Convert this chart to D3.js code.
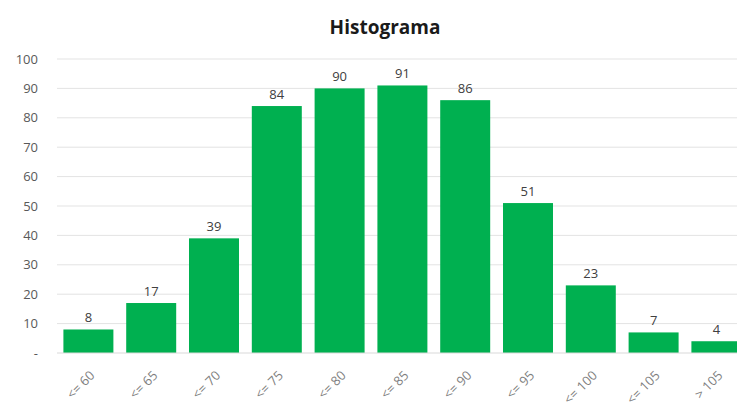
<!DOCTYPE html>
<html><head><meta charset="utf-8">
<script src="https://cdn.jsdelivr.net/npm/d3@7"></script>
<style>body{margin:0;background:#fff;overflow:hidden}</style>
</head><body>
<svg id="c" width="737" height="403"></svg>
<script>
const categories = ["<= 60","<= 65","<= 70","<= 75","<= 80","<= 85","<= 90","<= 95","<= 100","<= 105","> 105"];
const values = [8,17,39,84,90,91,86,51,23,7,4];
const yTicks = [0,10,20,30,40,50,60,70,80,90,100];

const svg = d3.select("#c");
const font = "'Open Sans', Calibri, sans-serif";
const x = d3.scaleBand().domain(categories).range([57, 747.8]).paddingInner(0.204).paddingOuter(0.102);
const y = d3.scaleLinear().domain([0,100]).range([353, 59]);

svg.append("g").selectAll("line").data(yTicks.slice(1)).join("line")
  .attr("x1",57).attr("x2",737).attr("y1",d=>y(d)).attr("y2",d=>y(d))
  .attr("stroke","#e3e3e3").attr("stroke-width",1);

const ya = svg.append("g").attr("transform","translate(44,0)")
  .call(d3.axisLeft(y).tickValues(yTicks).tickSize(0).tickPadding(6).tickFormat(d=>d===0?"-":d));
ya.select(".domain").remove();
ya.selectAll("text").attr("font-family",font).attr("font-size",13).attr("fill","#595959");

svg.append("g").selectAll("rect").data(values).join("rect")
  .attr("x",(d,i)=>x(categories[i])).attr("width",x.bandwidth())
  .attr("y",d=>y(d)).attr("height",d=>y(0)-y(d)).attr("fill","#00b050");

svg.append("line").attr("x1",57).attr("x2",737).attr("y1",y(0)).attr("y2",y(0)).attr("stroke","#d9d9d9");

svg.append("g").selectAll("text").data(values).join("text")
  .attr("x",(d,i)=>x(categories[i])+x.bandwidth()/2).attr("y",d=>y(d)-7)
  .attr("text-anchor","middle").attr("font-family",font).attr("font-size",13).attr("fill","#404040")
  .text(d=>d);

svg.append("g").selectAll("text").data(categories).join("text")
  .attr("transform",d=>`translate(${x(d)+x.bandwidth()/2+4},373) rotate(-45)`)
  .attr("text-anchor","end").attr("dy","0.35em").attr("font-family",font).attr("font-size",13).attr("fill","#7f7f7f")
  .text(d=>d);

svg.append("text").attr("x",385).attr("y",34).attr("text-anchor","middle")
  .attr("font-family",font).attr("font-size",19).attr("font-weight","bold").attr("fill","#1a1a1a").text("Histograma");
</script>
</body></html>
